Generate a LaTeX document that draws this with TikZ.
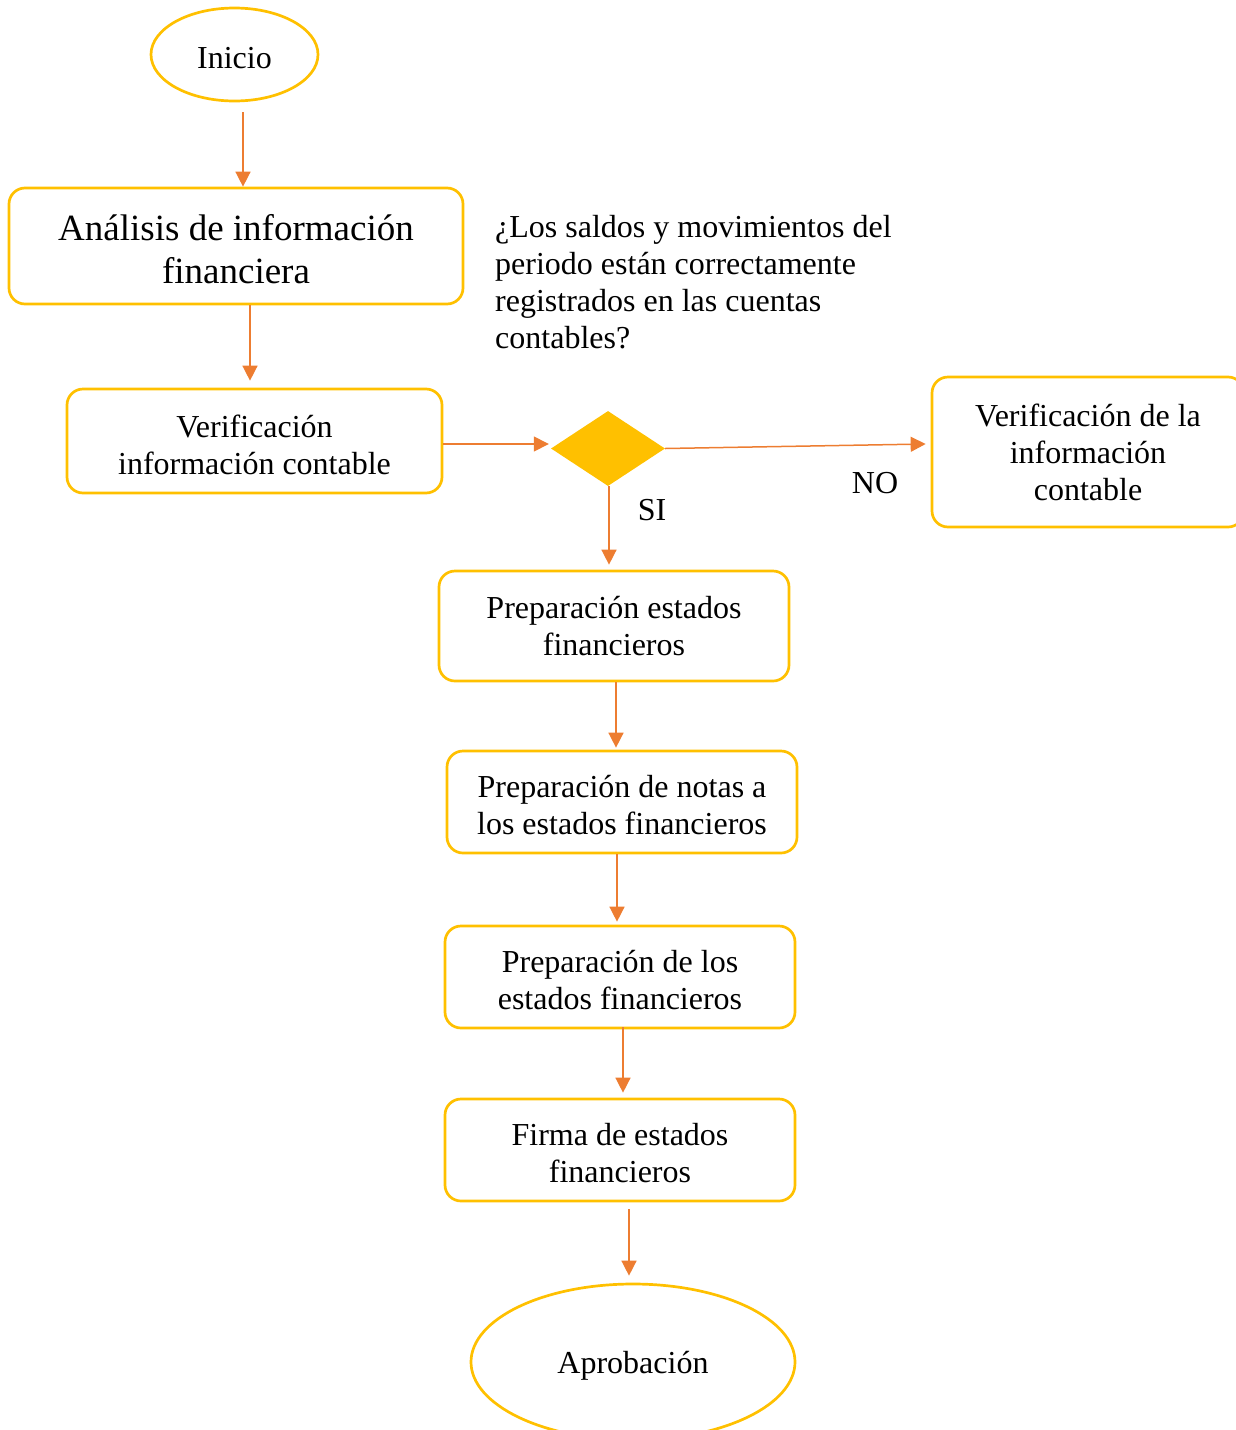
\documentclass[tikz,border=0pt]{standalone}
\usepackage{fontspec}
\setmainfont{Liberation Serif}
\usetikzlibrary{shapes.geometric,arrows.meta,calc}
\definecolor{boxyellow}{HTML}{FFC000}
\definecolor{arroworange}{HTML}{ED7D31}
% sets one line of a box label slightly lower without changing its size
\newcommand{\dnline}[1]{\raisebox{-3.5pt}[\height][\depth]{#1}}
\begin{document}
\begin{tikzpicture}[x=1pt,y=-1pt,
  txt/.style={font=\fontsize{32}{37}\selectfont},
  procbox/.style={draw=boxyellow, line width=2.7pt, rounded corners=16pt,
    inner sep=0pt, align=center, txt},
  terminal/.style={draw=boxyellow, line width=2.7pt, ellipse, inner sep=0pt, txt},
  flow/.style={draw=arroworange, line width=1.5pt,
    -{Triangle[length=15pt,width=15pt]}, arroworange}
]
\useasboundingbox (0,0) rectangle (1236,1430);

% start / end terminals
\node[terminal, minimum width=167pt, minimum height=93pt] (inicio) at (234.5,54.5) {\dnline{Inicio}};
\node[terminal, minimum width=324pt, minimum height=156pt] (aprob) at (633,1362) {\dnline{Aprobación}};

% process steps
\node[procbox, minimum width=454pt, minimum height=116pt,
  font=\fontsize{37}{43}\selectfont] (analisis) at (236,246)
  {\dnline{Análisis de información}\\\dnline{financiera}};
\node[procbox, minimum width=375pt, minimum height=104pt] (verif) at (254.5,441)
  {\dnline{Verificación}\\\dnline{información contable}};
\node[procbox, minimum width=312pt, minimum height=150pt] (revision) at (1088,452)
  {Verificación de la\\información\\contable};
\node[procbox, minimum width=350pt, minimum height=110pt] (prep1) at (614,626)
  {Preparación estados\\financieros};
\node[procbox, minimum width=350pt, minimum height=102pt] (notas) at (622,802)
  {\dnline{Preparación de notas a}\\\dnline{los estados financieros}};
\node[procbox, minimum width=350pt, minimum height=102pt] (prep2) at (620,977)
  {\dnline{Preparación de los}\\\dnline{estados financieros}};
\node[procbox, minimum width=350pt, minimum height=102pt] (firma) at (620,1150)
  {\dnline{Firma de estados}\\\dnline{financieros}};

% decision
\node[diamond, fill=boxyellow, minimum width=114pt, minimum height=75pt,
  inner sep=0pt] (decision) at (608,448.5) {};
\node[txt, anchor=west, align=left, inner sep=0pt] (pregunta) at (495,282)
  {¿Los saldos y movimientos del\\periodo están correctamente\\registrados en las cuentas\\contables?};
\node[txt, inner sep=0pt] (no) at (875,483) {NO};
\node[txt, inner sep=0pt] (si) at (652,510) {SI};

% connectors
\draw[flow] ($(inicio.south)+(8.5,10)$) -- ($(analisis.north)+(7,0)$);
\draw[flow] ($(analisis.south)+(14,0)$) -- ($(verif.north)+(-4.5,-7)$);
\draw[flow] ($(verif.east)+(0,3)$) -- ($(decision.west)+(-2,-4.5)$);
\draw[flow] (decision.east) -- ($(revision.west)+(-5,-8)$);
\draw[flow] ($(decision.south)+(1,0)$) -- ($(prep1.north)+(-5,-5)$);
\draw[flow] ($(prep1.south)+(2,0)$) -- ($(notas.north)+(-6,-2)$);
\draw[flow] ($(notas.south)+(-5,0)$) -- ($(prep2.north)+(-3,-3)$);
\draw[flow] ($(prep2.south)+(3,-2)$) -- ($(firma.north)+(3,-5)$);
\draw[flow] ($(firma.south)+(9,7)$) -- ($(aprob.north)+(-4,-7)$);
\end{tikzpicture}
\end{document}
